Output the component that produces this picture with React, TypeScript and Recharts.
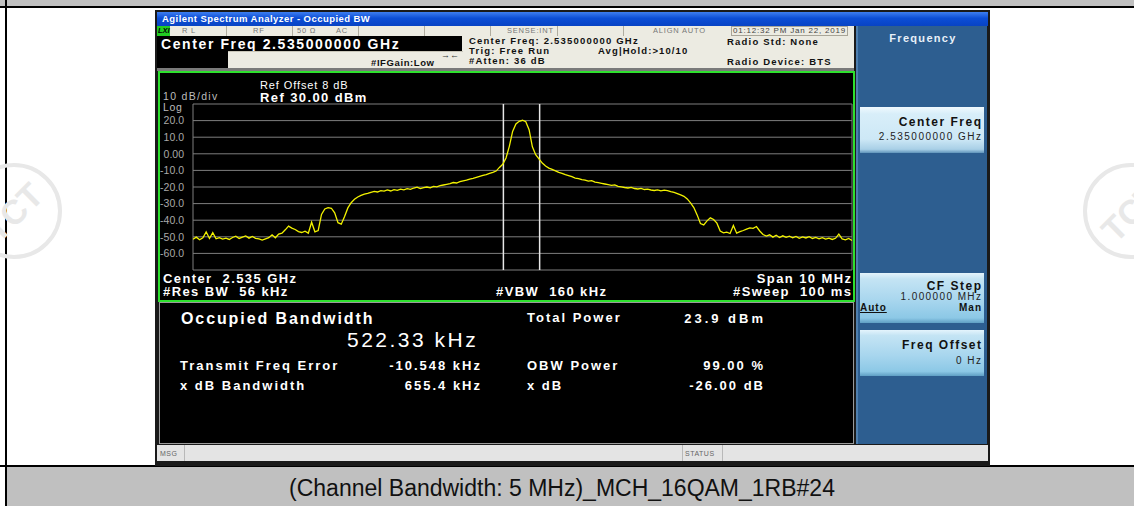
import React from 'react';
import { LineChart, Line, XAxis, YAxis, CartesianGrid, ReferenceLine } from 'recharts';

// trace samples: offset from centre (MHz) and level (dBm)
const traceFreq = [
  -5, -4.95, -4.9, -4.85, -4.8, -4.75, -4.7, -4.65, -4.6, -4.55,
  -4.5, -4.45, -4.4, -4.35, -4.3, -4.25, -4.2, -4.15, -4.1, -4.05,
  -4, -3.95, -3.9, -3.85, -3.8, -3.75, -3.7, -3.65, -3.6, -3.55,
  -3.5, -3.45, -3.4, -3.35, -3.3, -3.25, -3.2, -3.15, -3.1, -3.05,
  -3, -2.95, -2.9, -2.85, -2.8, -2.75, -2.7, -2.65, -2.6, -2.55,
  -2.5, -2.45, -2.4, -2.35, -2.3, -2.25, -2.2, -2.15, -2.1, -2.05,
  -2, -1.95, -1.9, -1.85, -1.8, -1.75, -1.7, -1.65, -1.6, -1.55,
  -1.5, -1.45, -1.4, -1.35, -1.3, -1.25, -1.2, -1.15, -1.1, -1.05,
  -1, -0.95, -0.9, -0.85, -0.8, -0.75, -0.7, -0.65, -0.6, -0.55,
  -0.5, -0.45, -0.4, -0.35, -0.3, -0.25, -0.2, -0.15, -0.1, -0.05,
  0, 0.05, 0.1, 0.15, 0.2, 0.25, 0.3, 0.35, 0.4, 0.45,
  0.5, 0.55, 0.6, 0.65, 0.7, 0.75, 0.8, 0.85, 0.9, 0.95,
  1, 1.05, 1.1, 1.15, 1.2, 1.25, 1.3, 1.35, 1.4, 1.45,
  1.5, 1.55, 1.6, 1.65, 1.7, 1.75, 1.8, 1.85, 1.9, 1.95,
  2, 2.05, 2.1, 2.15, 2.2, 2.25, 2.3, 2.35, 2.4, 2.45,
  2.5, 2.55, 2.6, 2.65, 2.7, 2.75, 2.8, 2.85, 2.9, 2.95,
  3, 3.05, 3.1, 3.15, 3.2, 3.25, 3.3, 3.35, 3.4, 3.45,
  3.5, 3.55, 3.6, 3.65, 3.7, 3.75, 3.8, 3.85, 3.9, 3.95,
  4, 4.05, 4.1, 4.15, 4.2, 4.25, 4.3, 4.35, 4.4, 4.45,
  4.5, 4.55, 4.6, 4.65, 4.7, 4.75, 4.8, 4.85, 4.9, 4.95,
  5,
];

const traceLevel = [
  -51.5, -50.2, -51.8, -50.6, -47.0, -51.0, -47.5, -51.2, -50.5, -51.4,
  -50.8, -51.6, -50.4, -49.6, -51.0, -50.2, -49.5, -50.8, -49.8, -50.9,
  -51.3, -52.0, -51.2, -50.5, -48.8, -50.6, -48.4, -47.8, -45.8, -43.6,
  -44.8, -45.6, -46.9, -47.4, -46.6, -47.8, -41.2, -47.0, -46.2, -36.5,
  -33.2, -32.4, -32.8, -35.6, -41.5, -42.4, -37.8, -32.6, -29.5, -27.4,
  -26.0, -25.1, -24.3, -23.8, -23.2, -22.6, -23.0, -22.2, -22.5, -21.8,
  -22.4, -21.6, -22.0, -21.3, -21.7, -21.0, -21.4, -20.6, -20.1, -21.0,
  -20.4, -20.0, -20.5, -19.6, -19.9, -19.2, -18.8, -18.4, -18.0, -17.3,
  -17.6, -16.8, -16.3, -15.9, -15.2, -14.8, -14.2, -13.6, -13.0, -12.5,
  -11.8, -11.2, -10.4, -8.2, -6.3, -2.5, 4.5, 13.5, 18.0, 19.6,
  20.2, 19.3, 14.5, 4.2, -0.5, -3.0, -5.6, -7.4, -8.6, -9.4,
  -10.3, -11.2, -11.8, -12.6, -13.1, -13.8, -14.6, -14.9, -15.6, -15.8,
  -16.5, -16.2, -17.1, -17.4, -17.8, -18.2, -18.6, -19.0, -18.7, -19.6,
  -19.9, -20.3, -20.6, -20.2, -20.9, -21.2, -20.8, -21.5, -21.3, -21.8,
  -22.1, -21.7, -22.3, -21.9, -22.2, -22.8, -23.3, -24.0, -24.8, -25.6,
  -27.2, -29.6, -32.4, -36.8, -42.0, -42.8, -40.4, -38.6, -39.6, -41.8,
  -46.5, -47.6, -47.2, -48.0, -43.2, -47.8, -46.9, -46.2, -45.4, -44.6,
  -44.9, -43.8, -46.5, -48.6, -49.6, -48.8, -50.2, -49.1, -50.4, -49.4,
  -50.3, -49.6, -50.6, -49.8, -50.9, -50.1, -50.7, -49.9, -51.0, -50.4,
  -51.2, -50.5, -51.4, -50.8, -51.6, -50.9, -48.4, -51.3, -51.8, -51.0,
  -52.2,
];

const xTicks = [-5, -4, -3, -2, -1, 0, 1, 2, 3, 4, 5];
const yTicks = [30, 20, 10, 0, -10, -20, -30, -40, -50, -60, -70];
const obwEdges = [-0.29, 0.26];

const resultLabels = ['Transmit Freq Error', 'x dB Bandwidth'];
const resultValues = ['-10.548 kHz', '655.4 kHz'];
const powerLabels = ['Total Power', 'OBW Power', 'x dB'];
const powerValues = ['23.9 dBm', '99.00 %', '-26.00 dB'];

const statusCells = ['R L', 'RF', '50 \u03a9', 'AC', 'SENSE:INT', 'ALIGN AUTO'];
const statusX = [182, 253, 297, 336, 507, 653];

const FONT = '"Liberation Sans", Arial, sans-serif';

const box = (left: number, top: number, width: number, height: number): React.CSSProperties => ({
  position: 'absolute', left, top, width, height,
});

type TxtProps = {
  x: number; y: number; size?: number; bold?: boolean; color?: string; ls?: number;
  end?: boolean; center?: boolean; style?: React.CSSProperties; children: React.ReactNode;
};

const Txt = ({ x, y, size = 12, bold = false, color = '#fff', ls = 0, end, center, style, children }: TxtProps) => (
  <div
    style={{
      position: 'absolute', left: end ? x + ls : x, top: y - size * 0.5, fontSize: size, lineHeight: 1,
      fontWeight: bold ? 700 : 400, color, whiteSpace: 'pre', fontFamily: FONT, letterSpacing: ls,
      transform: end ? 'translateX(-100%)' : center ? 'translateX(-50%)' : undefined,
      ...style,
    }}
  >
    {children}
  </div>
);

const fmtDb = (v: number) => (v === 30 || v === -70 ? '' : v === 0 ? '0.00' : v.toFixed(1));

const btnBg = 'linear-gradient(180deg, #e4f4fc 0%, #c4e4f4 12%, #a8d6ee 55%, #8cc8e6 90%, #5f9fc4 100%)';

const Watermark = ({ cx, cy }: { cx: number; cy: number }) => (
  <div style={{ ...box(cx - 48, cy - 48, 96, 96), borderRadius: '50%', border: '4px solid #e8e8e8', boxSizing: 'border-box' }}>
    <div style={{ position: 'absolute', left: 0, top: 26, width: 88, textAlign: 'center', fontSize: 34, fontWeight: 700, color: '#e8e8e8', transform: 'rotate(-45deg)', fontFamily: FONT }}>
      TCT
    </div>
  </div>
);

export default function App() {
  const trace = traceFreq.map((f, i) => ({ f, level: traceLevel[i] }));

  return (
    <div style={{ position: 'absolute', left: 0, top: 0, width: 1134, height: 506, background: '#fff', overflow: 'hidden', fontFamily: FONT }}>
      {/* page frame */}
      <div style={{ ...box(0, 0, 1134, 6), background: '#c0c0c0' }} />
      <div style={{ ...box(0, 6, 1134, 2), background: '#000' }} />
      <div style={{ ...box(5, 0, 2, 506), background: '#000' }} />
      <Watermark cx={14} cy={211} />
      <Watermark cx={1131} cy={211} />
      <div style={{ ...box(0, 465, 1134, 2), background: '#000' }} />
      <div style={{ ...box(7, 467, 1127, 39), background: '#c0c0c0' }} />
      <Txt x={562} y={488.5} size={23} center color="#111">
        (Channel Bandwidth: 5 MHz)_MCH_16QAM_1RB#24
      </Txt>

      {/* analyzer screen */}
      <div style={{ ...box(155, 10, 835, 456), background: '#1a1a1a' }} />
      <div style={{ ...box(157, 12, 831, 14), background: 'linear-gradient(180deg, #3d7ef0 0%, #0c4ed6 45%, #0843c4 100%)' }} />
      <Txt x={162} y={19} size={9.5} bold ls={0.45}>Agilent Spectrum Analyzer - Occupied BW</Txt>

      {/* status + settings rows */}
      <div style={{ ...box(157, 26, 697, 44), background: '#ecebe2' }} />
      <div style={{ ...box(157, 26, 13, 10), background: '#22cc22' }} />
      <Txt x={158} y={31} size={7.5} bold color="#000" style={{ fontStyle: 'italic' }}>LXI</Txt>
      {[226, 292, 358, 424, 490, 557, 623, 731].map((x) => (
        <div key={x} style={{ ...box(x, 26, 1, 10), background: '#b0ada0' }} />
      ))}
      {statusCells.map((s, i) => (
        <Txt key={s} x={statusX[i]} y={31} size={7.5} color="#777" ls={0.8}>{s}</Txt>
      ))}
      <div style={{ ...box(731, 26, 117, 10), border: '1px solid #a8a598', boxSizing: 'border-box' }} />
      <Txt x={733} y={31} size={8} color="#444" ls={0.8}>01:12:32 PM Jan 22, 2019</Txt>
      <div style={{ ...box(157, 36, 305, 15), background: '#000' }} />
      <Txt x={161} y={44} size={14} bold ls={1.6}>Center Freq 2.535000000 GHz</Txt>
      <div style={{ ...box(157, 51, 71, 18), background: '#000' }} />
      <div style={{ ...box(228, 51, 235, 18), borderTop: '1px solid #c8c5b8', boxSizing: 'border-box' }} />
      <Txt x={371} y={63} size={9.5} bold color="#111" ls={0.6}>#IFGain:Low</Txt>
      <Txt x={441} y={55} size={9} bold color="#333">{'\u2192\u2190'}</Txt>
      <Txt x={469} y={41} size={9.5} bold color="#111" ls={1.2}>Center Freq: 2.535000000 GHz</Txt>
      <Txt x={469} y={51} size={9.5} bold color="#111" ls={1.2}>Trig: Free Run</Txt>
      <Txt x={469} y={61} size={9.5} bold color="#111" ls={1.2}>#Atten: 36 dB</Txt>
      <Txt x={598} y={51} size={9.5} bold color="#111" ls={1.1}>Avg|Hold:&gt;10/10</Txt>
      <Txt x={727} y={42} size={9.5} bold color="#111" ls={1.2}>Radio Std: None</Txt>
      <Txt x={727} y={62} size={9.5} bold color="#111" ls={1.2}>Radio Device: BTS</Txt>
      <div style={{ ...box(157, 68, 697, 3), background: '#7a7a7a' }} />

      {/* trace window */}
      <div style={{ ...box(158, 71, 697, 231), background: '#000', border: '2px solid #2ee02e', boxSizing: 'border-box' }} />
      <Txt x={260} y={85.5} size={11} ls={0.9}>Ref Offset 8 dB</Txt>
      <Txt x={163} y={96.5} size={10.5} color="#bdbdbd" ls={1.3}>10 dB/div</Txt>
      <Txt x={260} y={97} size={13} bold ls={1.4}>Ref 30.00 dBm</Txt>
      <Txt x={163} y={107} size={10.5} color="#bdbdbd" ls={0.6}>Log</Txt>
      <div style={{ position: 'absolute', left: 160, top: 74 }}>
        <LineChart width={694} height={226} data={trace} margin={{ top: 30, right: 2, bottom: 30, left: 0 }}>
          <CartesianGrid stroke="#7e7e7e" strokeWidth={1} fill="none" />
          <XAxis dataKey="f" type="number" domain={[-5, 5]} ticks={xTicks} tick={false} axisLine={false} tickLine={false} height={0} allowDataOverflow />
          <YAxis
            type="number"
            domain={[-70, 30]}
            ticks={yTicks}
            interval={0}
            width={33}
            axisLine={false}
            tickLine={false}
            tickMargin={3}
            tickFormatter={fmtDb}
            tick={{ fill: '#a9a9a9', fontSize: 10.5, fontFamily: FONT }}
            allowDataOverflow
          />
          {obwEdges.map((x) => (
            <ReferenceLine key={x} x={x} stroke="#e6e6e6" strokeWidth={1.5} />
          ))}
          <Line type="linear" dataKey="level" stroke="#f2f200" strokeWidth={1.3} dot={false} isAnimationActive={false} />
        </LineChart>
      </div>
      <Txt x={163} y={278} size={13} bold ls={1.4}>Center  2.535 GHz</Txt>
      <Txt x={163} y={291} size={13} bold ls={1.4}>#Res BW  56 kHz</Txt>
      <Txt x={496} y={291} size={13} bold ls={1.4}>#VBW  160 kHz</Txt>
      <Txt x={851} y={278} size={13} bold end ls={1.4}>Span 10 MHz</Txt>
      <Txt x={851} y={291} size={13} bold end ls={1.4}>#Sweep  100 ms</Txt>

      {/* measurement results */}
      <div style={{ ...box(159, 302, 695, 142), background: '#000', border: '1px solid #9a9a9a', boxSizing: 'border-box' }} />
      <Txt x={181} y={319} size={16} bold ls={1.9}>Occupied Bandwidth</Txt>
      <Txt x={347} y={339} size={21} ls={2.5}>522.33 kHz</Txt>
      {resultLabels.map((s, i) => (
        <Txt key={s} x={180} y={365 + i * 20} size={13} bold ls={2}>{s}</Txt>
      ))}
      {resultValues.map((s, i) => (
        <Txt key={s} x={480} y={365 + i * 20} size={13} bold end ls={2}>{s}</Txt>
      ))}
      {powerLabels.map((s, i) => (
        <Txt key={s} x={527} y={i === 0 ? 317 : 345 + i * 20} size={13} bold ls={2}>{s}</Txt>
      ))}
      {powerValues.map((s, i) => (
        <Txt key={s} x={763} y={i === 0 ? 318 : 345 + i * 20} size={13} bold end ls={i === 0 ? 3 : 2}>{s}</Txt>
      ))}

      {/* message bar */}
      <div style={{ ...box(157, 445, 831, 16), background: '#e4e4e4' }} />
      <div style={{ ...box(184, 445, 1, 16), background: '#b8b8b8' }} />
      <div style={{ ...box(682, 445, 1, 16), background: '#b8b8b8' }} />
      <div style={{ ...box(722, 445, 1, 16), background: '#b8b8b8' }} />
      <Txt x={160} y={453} size={7} color="#666" ls={0.5}>MSG</Txt>
      <Txt x={685} y={453} size={7} color="#666" ls={0.5}>STATUS</Txt>

      {/* softkey panel */}
      <div style={{ ...box(856, 26, 131, 418), background: '#2d5e90', borderLeft: '2px solid #4d7eae', boxSizing: 'border-box' }} />
      <Txt x={923} y={38} size={11} bold center color="#e8f0f8" ls={1.3}>Frequency</Txt>
      <div style={{ ...box(860, 107, 124, 46), background: 'linear-gradient(180deg, #f0f9fe 0%, #d8eef9 15%, #cde8f6 70%, #a8cfe6 92%, #5f93ba 100%)' }} />
      <Txt x={981} y={122} size={12} bold end color="#111" ls={1.5}>Center Freq</Txt>
      <Txt x={981} y={137} size={10} end color="#222" ls={1.5}>2.535000000 GHz</Txt>
      <div style={{ ...box(860, 273, 124, 50), background: btnBg }} />
      <Txt x={981} y={286} size={12} bold end color="#111" ls={1.5}>CF Step</Txt>
      <Txt x={981} y={297} size={10} end color="#222" ls={1.4}>1.000000 MHz</Txt>
      <Txt x={860} y={308} size={10} bold color="#111" ls={1} style={{ textDecoration: 'underline' }}>Auto</Txt>
      <Txt x={981} y={308} size={10} bold end color="#111" ls={1}>Man</Txt>
      <div style={{ ...box(860, 330, 124, 46), background: btnBg }} />
      <Txt x={981} y={345} size={12} bold end color="#111" ls={1.5}>Freq Offset</Txt>
      <Txt x={981} y={361} size={10} end color="#222" ls={1.5}>0 Hz</Txt>
    </div>
  );
}
